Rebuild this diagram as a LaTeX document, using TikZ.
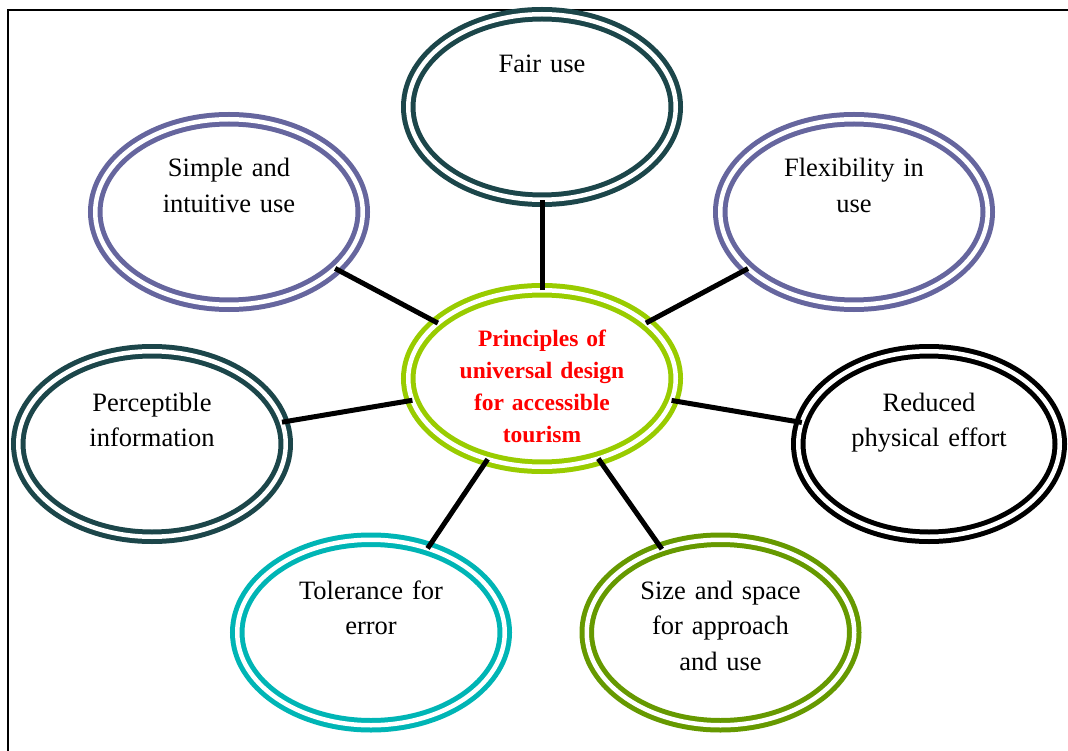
\documentclass[tikz,border=0pt]{standalone}
\usepackage{fontspec}
\setmainfont{Liberation Serif}
\usetikzlibrary{shapes.geometric}

\definecolor{darkteal}{RGB}{28,70,74}
\definecolor{lavender}{RGB}{102,102,158}
\definecolor{limegreen}{RGB}{153,204,0}
\definecolor{aqua}{RGB}{0,181,181}
\definecolor{olive}{RGB}{102,153,0}

\tikzset{
  ring/.style={ellipse, draw=#1, line width=5pt, double=white,
    double distance=4.5pt, inner sep=0pt, outer sep=0pt,
    minimum width=267.5pt, minimum height=185.5pt},
  lbl/.style={anchor=base, align=center, text width=260pt, inner sep=0pt,
    font=\fontsize{26.5}{35.5}\selectfont},
  hublbl/.style={anchor=base, align=center, text width=260pt, inner sep=0pt,
    text=red, font=\fontsize{23.5}{32}\selectfont\bfseries},
  spoke/.style={line width=5pt, black}
}

\begin{document}
\begin{tikzpicture}[x=1pt, y=-1pt]
  \useasboundingbox (0,0) rectangle (1068,751);
  \fill[white] (0,0) rectangle (1068,751);

  % frame around the figure
  \begin{scope}
    \clip (0,0) rectangle (1068,751);
    \draw[line width=2.5pt] (8,10) rectangle (1090,780);
  \end{scope}

  % central principle and the seven satellites
  \node[ring=limegreen, minimum height=176.5pt] (hub) at (542,378.5) {};
  \node[ring=darkteal] (fair) at (542,107) {};
  \node[ring=lavender] (simple) at (229,212) {};
  \node[ring=lavender] (flex) at (854,212) {};
  \node[ring=darkteal] (percept) at (152,444) {};
  \node[ring=black, minimum width=261.5pt] (effort) at (929,444) {};
  \node[ring=aqua] (tolerance) at (371,632.5) {};
  \node[ring=olive] (space) at (720.5,632.5) {};

  % spokes
  \foreach \n in {fair,simple,flex,percept,effort,tolerance,space}
    \draw[spoke] (hub) -- (\n);

  % labels
  \node[hublbl] (hubtxt) at (542,346)
    {Principles of\\universal design\\for accessible\\tourism};
  \node[lbl] (fairtxt) at (542,73) {Fair use};
  \node[lbl] (simpletxt) at (229,177) {Simple and\\intuitive use};
  \node[lbl] (flextxt) at (854,177) {Flexibility in\\use};
  \node[lbl] (percepttxt) at (152,411) {Perceptible\\information};
  \node[lbl] (efforttxt) at (929,411) {Reduced\\physical effort};
  \node[lbl] (tolerancetxt) at (371,599) {Tolerance for\\error};
  \node[lbl] (spacetxt) at (720.5,599) {Size and space\\for approach\\and use};
\end{tikzpicture}
\end{document}
